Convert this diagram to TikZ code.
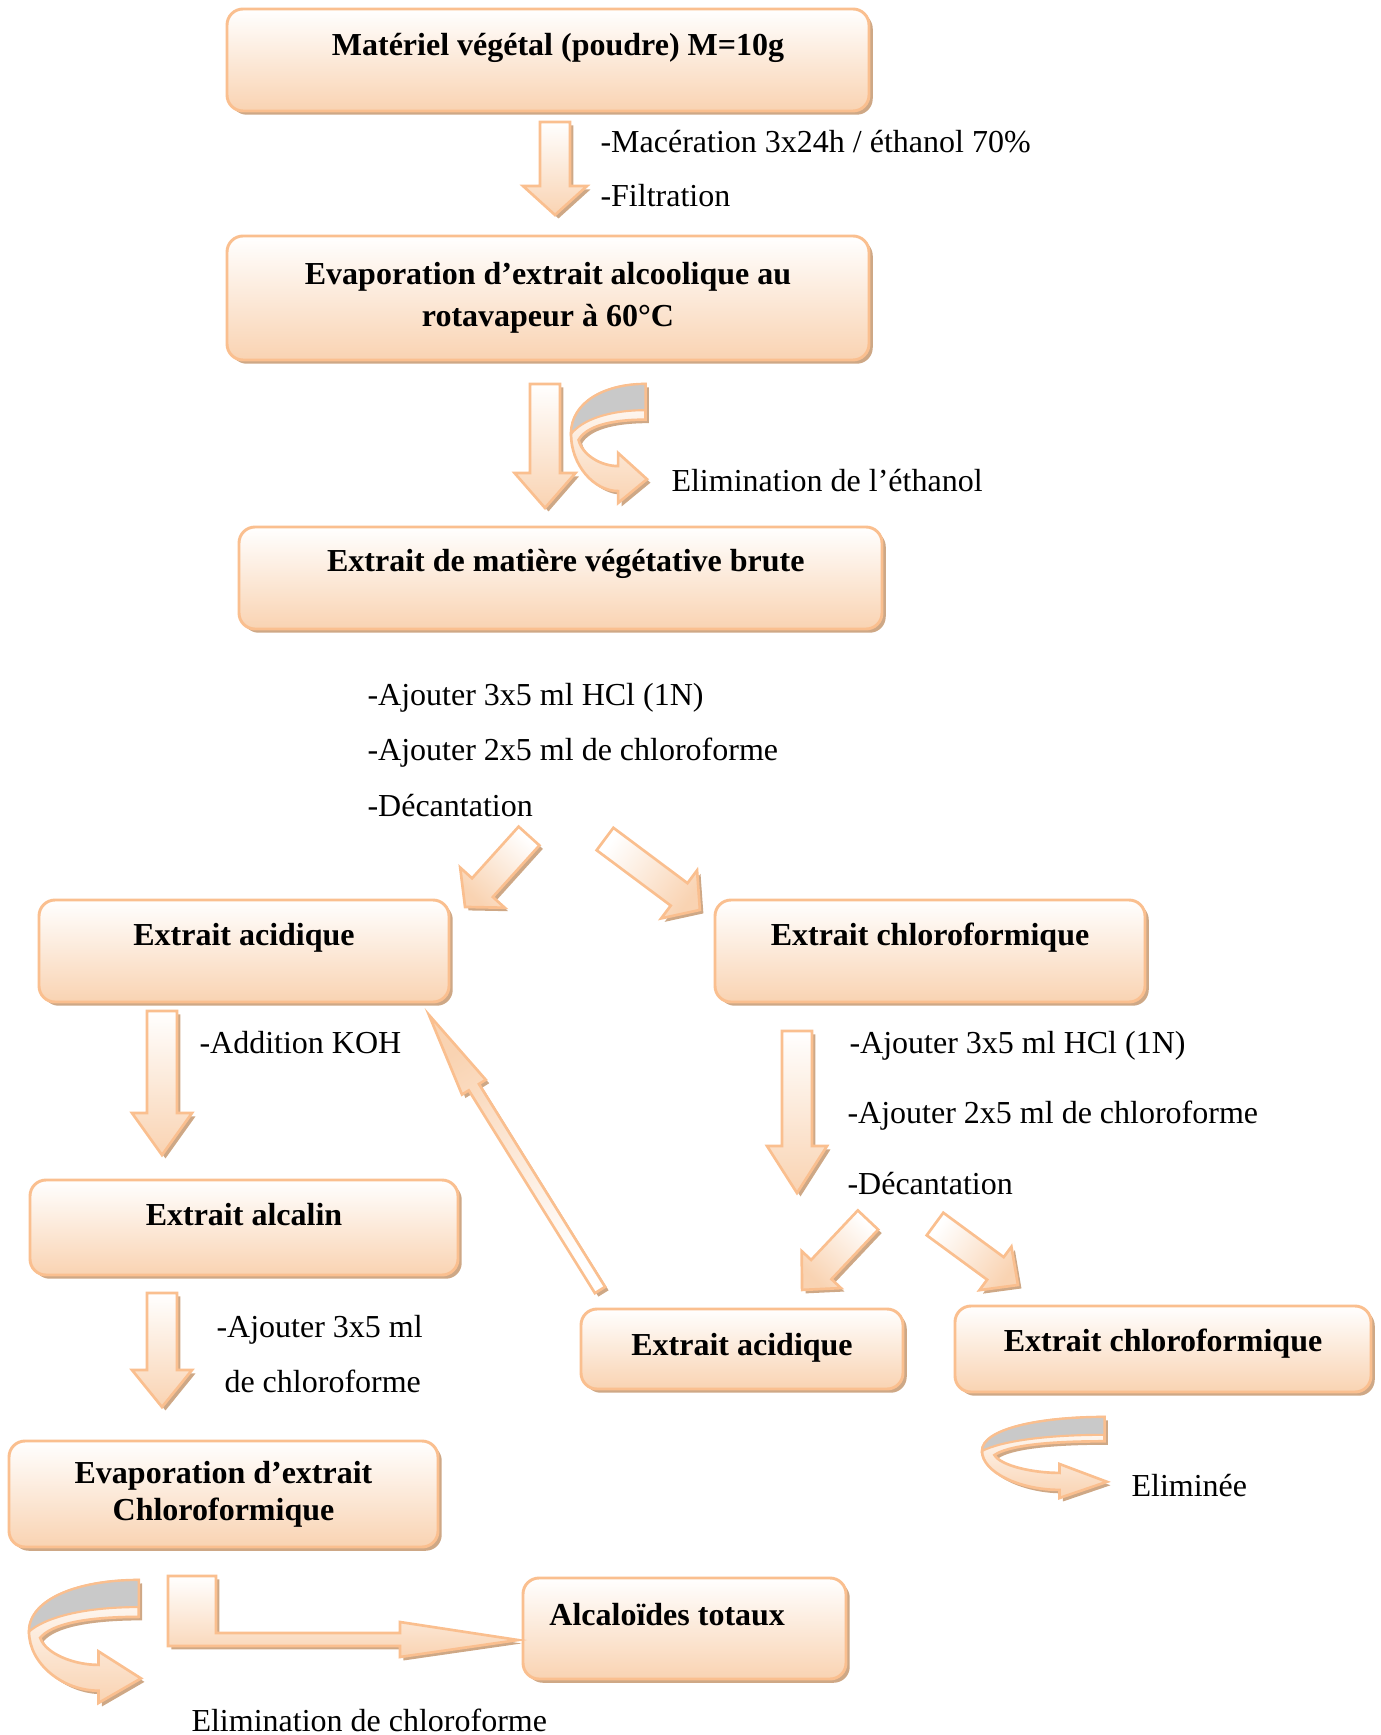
\documentclass[tikz,border=0pt]{standalone}
\usepackage{fontspec}
\setmainfont{Liberation Serif}
\usetikzlibrary{calc, shadows, positioning}

\definecolor{boxedge}{RGB}{250,191,143}
\definecolor{boxfill}{RGB}{249,211,178}
\definecolor{boxshade}{RGB}{206,168,134}
\definecolor{ribbongrey}{RGB}{201,201,201}

\tikzset{
  stepbox/.style={rectangle, rounded corners=6pt, draw=boxedge, line width=1.1pt,
    top color=white, bottom color=boxfill,
    drop shadow={shadow xshift=1.4pt, shadow yshift=-1.4pt, fill=boxshade, opacity=1},
    font=\fontsize{12}{15.75}\selectfont\bfseries, align=center, inner sep=0pt},
  boxsize/.style 2 args={minimum width=#1*0.375pt, minimum height=#2*0.375pt},
  lift/.style={text height=10pt, text depth=#1},
  note/.style={anchor=west, inner sep=0pt, font=\fontsize{12}{14}\selectfont,
    text height=8pt, text depth=0pt},
  blockarrow/.style={draw=boxedge, line width=1pt, line join=miter,
    top color=white, bottom color=boxfill,
    drop shadow={shadow xshift=1.3pt, shadow yshift=-1.3pt, fill=boxshade, opacity=1}},
  pics/uturn/.style={code={
    \draw[blockarrow] (0.98,0) .. controls (0.45,0) and (0,0.15) .. (0,0.42)
      .. controls (0,0.68) and (0.3,0.9) .. (0.62,0.9) -- (0.62,1) -- (1,0.8)
      -- (0.62,0.58) -- (0.62,0.69) .. controls (0.4,0.69) and (0.15,0.6) .. (0.1,0.47)
      .. controls (0.2,0.36) and (0.5,0.3) .. (0.98,0.3) -- cycle;
    \draw[fill=ribbongrey, draw=boxedge, line width=0.8pt]
      (0.98,0) .. controls (0.45,0) and (0,0.15) .. (0,0.42)
      .. controls (0.15,0.3) and (0.5,0.22) .. (0.98,0.22) -- cycle;
  }}
}

% fat arrow: tail, tip, shaft half width, head half width, head length (px)
\newcommand{\fatarrow}[5]{%
  \path let \p1 = ($(#2)-(#1)$) in
    \pgfextra{%
      \pgfmathsetmacro\arrang{atan2(\y1,\x1)}%
      \pgfmathsetmacro\arrlen{veclen(\x1,\y1)/0.375}%
      \pgfmathsetmacro\arrshade{\arrang+90}%
      \xdef\arrang{\arrang}\xdef\arrlen{\arrlen}\xdef\arrshade{\arrshade}};
  \draw[blockarrow, shading angle=\arrshade, shift={(#1)}, rotate=\arrang]
    (0,#3) -- ({\arrlen-#5},#3) -- ({\arrlen-#5},#4) -- (\arrlen,0)
    -- ({\arrlen-#5},-#4) -- ({\arrlen-#5},-#3) -- (0,-#3) -- cycle;
}

\begin{document}
\begin{tikzpicture}[x=0.375pt, y=-0.375pt]
  \useasboundingbox (0,0) rectangle (1380,1735);

  % Boxes
  \node[stepbox, boxsize={642}{102}, lift=13.2pt] (mat) at (548,60) {\hspace*{7.5pt}Matériel végétal (poudre) M=10g};
  \node[stepbox, boxsize={642}{124}] (evap) at (548,298) {Evaporation d’extrait alcoolique au\\ rotavapeur à 60°C};
  \node[stepbox, boxsize={643}{102}, lift=14.8pt] (brute) at (560.5,578) {\hspace*{4pt}Extrait de matière végétative brute};
  \node[stepbox, boxsize={410}{102}, lift=14pt] (acid) at (244,951) {Extrait acidique};
  \node[stepbox, boxsize={430}{102}, lift=14pt] (chloro) at (930,951) {Extrait chloroformique};
  \node[stepbox, boxsize={428}{95}, lift=11.4pt] (alcalin) at (244,1227.5) {Extrait alcalin};
  \node[stepbox, boxsize={322}{80}, lift=5pt] (acid2) at (742,1349) {Extrait acidique};
  \node[stepbox, boxsize={416}{86}, lift=8pt] (chloro2) at (1163,1349) {Extrait chloroformique};
  \node[stepbox, boxsize={429}{106}, font=\fontsize{12}{13.9}\selectfont\bfseries] (evapchl) at (223.5,1494) {Evaporation d’extrait\\ Chloroformique};
  \node[stepbox, boxsize={323}{101}, lift=12pt] (alcal) at (684.5,1628.5) {Alcaloïdes totaux\hspace*{13pt}};

  % Step notes
  \node[note] (mac) at (600,142) {-Macération 3x24h / éthanol 70\%};
  \node[note] (filt) at (600,196) {-Filtration};
  \node[note] (elimeth) at (671,481) {Elimination de l’éthanol};
  \node[note] (aja) at (367,695) {-Ajouter 3x5 ml HCl (1N)};
  \node[note] (ajb) at (367,750) {-Ajouter 2x5 ml de chloroforme};
  \node[note] (deca) at (367,806) {-Décantation};
  \node[note] (koh) at (199,1043) {-Addition KOH};
  \node[note] (ajc) at (849,1043) {-Ajouter 3x5 ml HCl (1N)};
  \node[note] (ajd) at (847,1113) {-Ajouter 2x5 ml de chloroforme};
  \node[note] (decb) at (847,1184) {-Décantation};
  \node[note] (aje) at (216,1327) {-Ajouter 3x5 ml};
  \node[note] (ajf) at (224,1382) {de chloroforme};
  \node[note] (elimin) at (1131,1486) {Eliminée};
  \node[note] (elimchl) at (191,1721) {Elimination de chloroforme};

  % Arrow ends
  \coordinate (a1t) at (555,122);  \coordinate (a1h) at (555,215);
  \coordinate (a2t) at (545,384);  \coordinate (a2h) at (545,508);
  \coordinate (a3t) at (529,836);  \coordinate (a3h) at (465,907);
  \coordinate (a4t) at (605,839);  \coordinate (a4h) at (700,910);
  \coordinate (a5t) at (162,1011); \coordinate (a5h) at (162,1155);
  \coordinate (a6t) at (600,1290); \coordinate (a6h) at (429,1015);
  \coordinate (a7t) at (797,1031); \coordinate (a7h) at (797,1193);
  \coordinate (a8t) at (868,1220); \coordinate (a8h) at (802,1290);
  \coordinate (a9t) at (935,1224); \coordinate (a9h) at (1018,1285);
  \coordinate (a10t) at (162,1293); \coordinate (a10h) at (162,1407);

  % Block arrows
  \fatarrow{a1t}{a1h}{15}{32}{29}
  \fatarrow{a2t}{a2h}{15}{30.5}{35}
  \fatarrow{a3t}{a3h}{14}{30}{26}
  \fatarrow{a4t}{a4h}{14}{30}{26}
  \fatarrow{a5t}{a5h}{15}{30}{42}
  \fatarrow{a6t}{a6h}{6}{14}{85}
  \fatarrow{a7t}{a7h}{15}{30}{47}
  \fatarrow{a8t}{a8h}{14}{27}{28}
  \fatarrow{a9t}{a9h}{14}{27}{28}
  \fatarrow{a10t}{a10h}{15}{30}{37}

  % Bent arrow to the last box
  \draw[blockarrow] (168,1576) -- (216,1576) -- (216,1633) -- (400,1633) -- (400,1622)
    -- (518,1640) -- (400,1657) -- (400,1646) -- (168,1646) -- cycle;

  % Curved arrows
  \pic[xscale=76, yscale=119] (ethloop) at (571,384) {uturn};
  \pic[xscale=125, yscale=81] (chlloop) at (982,1417) {uturn};
  \pic[xscale=112, yscale=123] (evaloop) at (29,1580) {uturn};
\end{tikzpicture}
\end{document}
